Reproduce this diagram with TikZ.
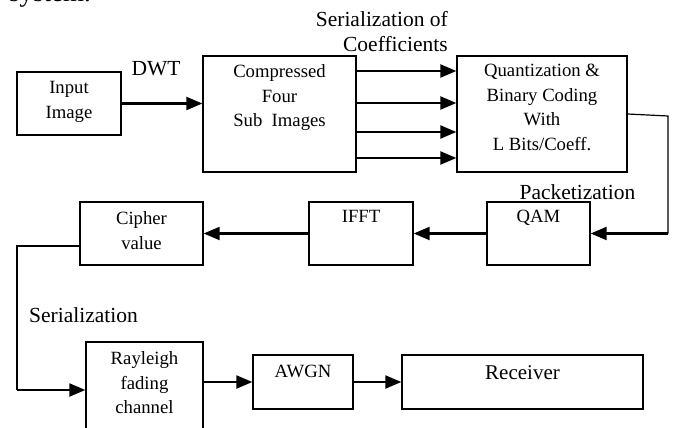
\documentclass[tikz,border=0pt]{standalone}
\usepackage{fontspec}
\setmainfont{Liberation Serif}
\usetikzlibrary{arrows.meta, positioning}
\tikzset{
    blk/.style={rectangle, draw=black, line width=1.3pt, inner sep=0pt},
    boxtxt/.style={align=center, inner sep=0pt, font=\fontsize{18.7}{24.5}\selectfont},
    lbltxt/.style={inner sep=0pt, align=right, font=\fontsize{21.5}{25}\selectfont},
    arrow/.style={-{Triangle[length=16pt,width=13pt]}, line width=2.2pt},
    wire/.style={line width=1.2pt},
}

\begin{document}
\begin{tikzpicture}[x=1pt, y=-1pt]
    \useasboundingbox (0,0) rectangle (673,428);
    \clip (0,0) rectangle (673,428);
    % blocks
    \node[blk, minimum width=104pt, minimum height=63pt]  (inp) at (69,103.5) {};
    \node[blk, minimum width=153pt, minimum height=116pt] (cmp) at (279.5,114) {};
    \node[blk, minimum width=170pt, minimum height=116pt] (qnt) at (542,114) {};
    \node[blk, minimum width=103pt, minimum height=63pt]  (qam) at (538.5,233.5) {};
    \node[blk, minimum width=104pt, minimum height=63pt]  (ifft) at (361,233.5) {};
    \node[blk, minimum width=123pt, minimum height=63pt]  (cip) at (141.5,233.5) {};
    \node[blk, minimum width=117pt, minimum height=90pt]  (ray) at (144.5,387) {};
    \node[blk, minimum width=100pt, minimum height=54pt]  (awgn) at (303,382) {};
    \node[blk, minimum width=241pt, minimum height=54pt]  (rcv) at (522.5,382) {};
    % block texts
    \node[boxtxt, below=10pt of inp.north] (inp-t) {Input\\Image};
    \node[boxtxt, below=9pt of cmp.north] (cmp-t) {Compressed\\Four\\Sub~~Images};
    \node[boxtxt, below=9pt of qnt.north] (qnt-t) {Quantization \&\\Binary Coding\\With\\L Bits/Coeff.};
    \node[boxtxt, below=8.5pt of qam.north] (qam-t) {QAM};
    \node[boxtxt, below=8.5pt of ifft.north] (ifft-t) {IFFT};
    \node[boxtxt, below=10pt of cip.north] (cip-t) {Cipher\\value};
    \node[boxtxt, below=10pt of ray.north] (ray-t) {Rayleigh\\fading\\channel};
    \node[boxtxt, below=10.5pt of awgn.north] (awgn-t) {AWGN};
    \node[boxtxt, below=11pt of rcv.north, font=\fontsize{21}{25}\selectfont] (rcv-t) {Receiver};
    % labels
    \node[lbltxt, anchor=base west, font=\fontsize{27}{30}\selectfont] (sys) at (9,2) {system.};
    \node[lbltxt, anchor=north east] (ser1) at (448,11.5) {Serialization of\\Coefficients};
    \node[lbltxt, anchor=base] (dwt) at (156,76) {DWT};
    \node[lbltxt, anchor=base] (pkt) at (577.5,199) {Packetization};
    \node[lbltxt, anchor=base] (ser2) at (83.5,322) {Serialization};
    % connectors
    \coordinate (q1) at (668,116);
    \coordinate (c1) at (17,246);
    \coordinate (c2) at (17,390);
    \draw[arrow] (inp) -- (cmp.west |- inp);
    \foreach \yy in {71,103,132,158}
        \draw[arrow] (cmp.east |- 0,\yy) -- (qnt.west |- 0,\yy);
    \draw[wire] (qnt.east) -- (q1) -- (q1 |- qam.east);
    \draw[arrow] (q1 |- qam.east) -- (qam.east);
    \draw[arrow] (qam) -- (ifft);
    \draw[arrow] (ifft) -- (cip);
    \draw[wire] ([yshift=-12.5pt]cip.west) -- (c1) -- (c2);
    \draw[arrow] (c2) -- (ray.west |- c2);
    \draw[arrow] (ray.east |- awgn) -- (awgn);
    \draw[arrow] (awgn) -- (rcv);
\end{tikzpicture}
\end{document}
